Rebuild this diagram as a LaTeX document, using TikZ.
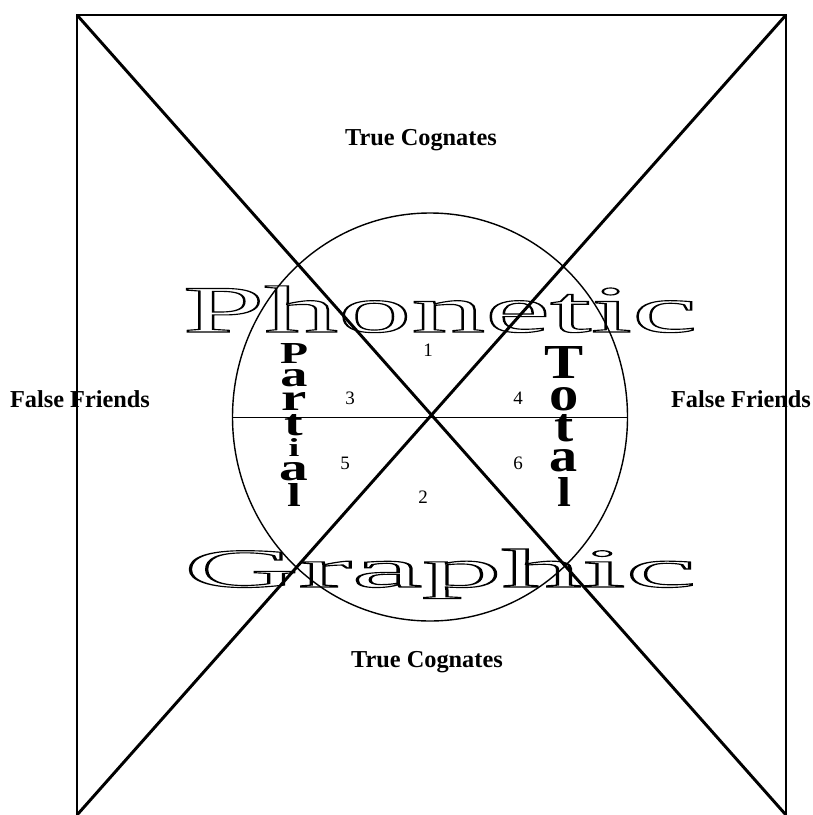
\documentclass[tikz,border=0pt]{standalone}
\usepackage{fontspec}
\setmainfont{Liberation Serif}
\usepackage{graphicx}
\usepackage{tikz}
\newlength{\pxu}
\setlength{\pxu}{0.025cm}
\newcommand{\outlined}[1]{\special{pdf:literal direct 1 Tr 0.8 w}#1\special{pdf:literal direct 0 Tr}}
\tikzset{
  frame/.style  ={line width=1.1pt, black},
  cross/.style  ={line width=2.1pt, black},
  ring/.style   ={line width=1.0pt, black},
  split/.style  ={line width=0.7pt, black},
  head/.style   ={font=\fontsize{17.3}{20}\selectfont\bfseries, inner sep=0pt},
  numlab/.style ={font=\fontsize{13.5}{15}\selectfont, inner sep=0pt},
  vlet/.style   ={font=\fontsize{30}{32}\selectfont\bfseries, inner sep=0pt,
                  anchor=base},
  bigword/.style={inner sep=0pt, anchor=base},
}
\begin{document}
\begin{tikzpicture}[x=0.025cm, y=-0.025cm]
  \useasboundingbox (0,0) rectangle (813,815);
  % frame corners and centre
  \coordinate (tl) at (77,15);
  \coordinate (tr) at (786,15);
  \coordinate (bl) at (77,815);
  \coordinate (br) at (786,815);
  \coordinate (mid) at (430,417);
  \draw[frame] (bl) -- (tl) -- (tr) -- (br);
  \draw[cross] (tl) -- (br);
  \draw[cross] (tr) -- (bl);
  % the wheel
  \draw[ring] (mid) ellipse [x radius=197.5, y radius=204];
  \coordinate (wl) at (232.5,417);
  \coordinate (wr) at (627.5,417);
  \draw[split] (wl) -- (wr);
  % big outlined words
  \node[bigword] (phon) at (440,332)
    {\fontsize{47.3}{50}\selectfont\scalebox{2.21}[1]{\outlined{Phonetic}}};
  \node[bigword] (graph) at (440,587)
    {\fontsize{39}{42}\selectfont\scalebox{2.9}[1]{\outlined{Graphic}}};
  % outer labels
  \node[head] (tctop) at (421,140) {True Cognates};
  \node[head] (tcbot) at (427,662) {True Cognates};
  \node[head] (ffl)   at (80,399)  {False Friends};
  \node[head] (ffr)   at (741,399) {False Friends};
  % sector numbers
  \node[numlab] (n1) at (428,350) {1};
  \node[numlab] (n2) at (423,497) {2};
  \node[numlab] (n3) at (350,398) {3};
  \node[numlab] (n4) at (518,398) {4};
  \node[numlab] (n5) at (345,463) {5};
  \node[numlab] (n6) at (518,463) {6};
  % vertical words, letter/height/baseline
  \foreach \c/\h/\y [count=\i] in
      {P/20/363, a/17/386, r/18/410, t/21/435, i/18/456, a/18/480, l/23/506}
    \node[vlet] (part\i) at (294,\y)
      {\resizebox{!}{\h\pxu}{\scalebox{1.5}[1]{\c}}};
  \foreach \c/\h/\y [count=\i] in
      {T/32/378, o/23/410, t/27/441, a/22/471, l/29/506}
    \node[vlet] (tot\i) at (564,\y)
      {\resizebox{!}{\h\pxu}{\scalebox{1.2}[1]{\c}}};
\end{tikzpicture}
\end{document}
